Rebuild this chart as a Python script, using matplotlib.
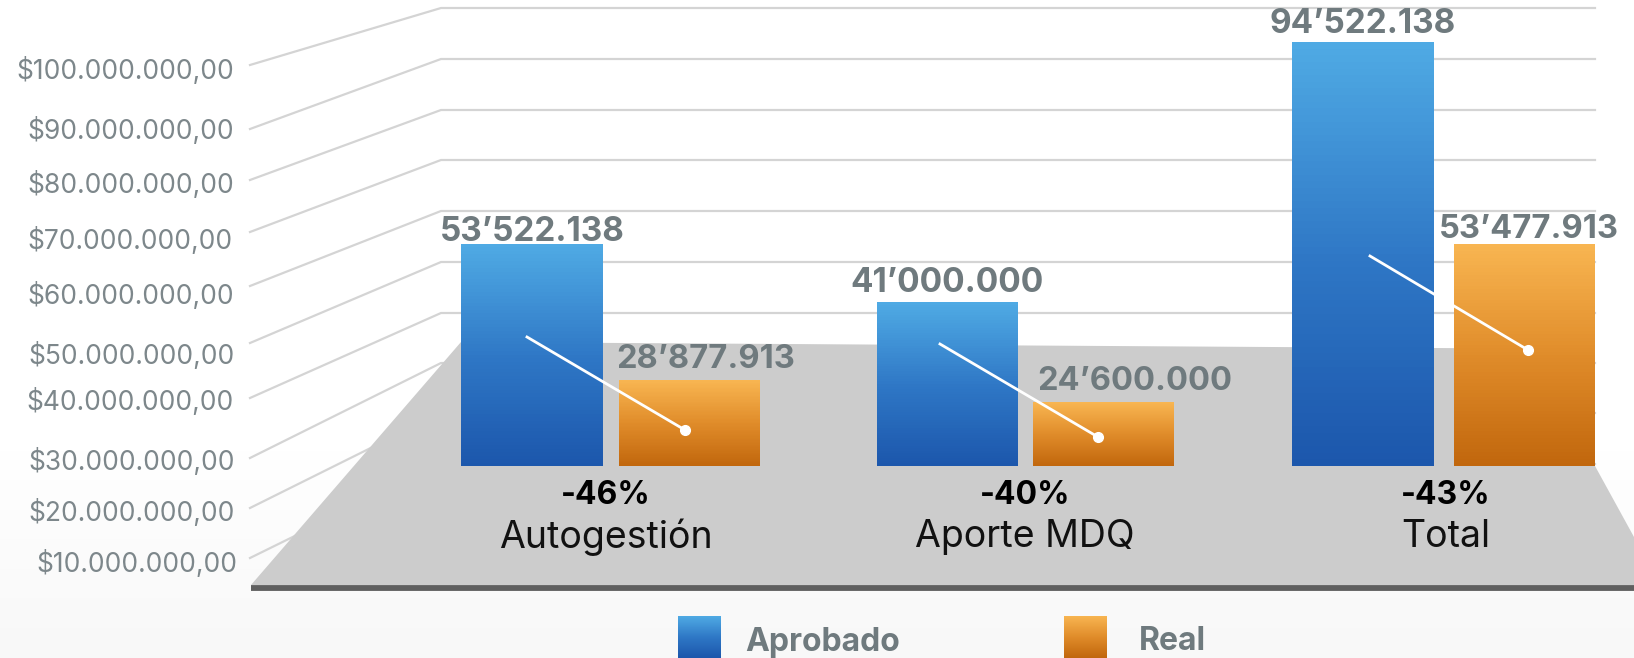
import numpy as np
import matplotlib
matplotlib.use('Agg')
import matplotlib.pyplot as plt
from matplotlib.colors import LinearSegmentedColormap
from matplotlib.patches import Polygon

plt.rcParams['font.family'] = ['Inter', 'DejaVu Sans']

W, H = 1634, 658

categories = ['Autogestión', 'Aporte MDQ', 'Total']
aprobado = [53522138, 41000000, 94522138]
real = [28877913, 24600000, 53477913]
aprobado_labels = ['53’522.138', '41’000.000', '94’522.138']
real_labels = ['28’877.913', '24’600.000', '53’477.913']
cambio = ['-46%', '-40%', '-43%']
tick_labels = ['$100.000.000,00', '$90.000.000,00', '$80.000.000,00', '$70.000.000,00', '$60.000.000,00',
               '$50.000.000,00', '$40.000.000,00', '$30.000.000,00', '$20.000.000,00', '$10.000.000,00']

# the bars are not in proportion in the picture, value -> height in pixels
scale_val = [0, 24600000, 28877913, 41000000, 53477913, 53522138, 94522138, 110000000]
scale_px = [0, 64, 86, 164, 222, 222.2, 424, 466]

# pixel positions
tick_x = [234, 234, 234, 233, 234, 235, 234, 235, 235, 237]
tick_y = [71, 131, 185, 241, 296, 356, 402, 462, 513, 564]
grid_left_y = [65, 129, 180, 232, 286, 343, 398, 458, 508, 558]
grid_wall_y = [8, 59, 110, 160, 211, 262, 313, 363, 413, 464]
off_aprobado = [-0.189, -0.191, -0.194]
off_real = [0.189, 0.183, 0.194]
aprobado_label_pos = [(532, 232), (947, 283), (1363, 24)]
real_label_pos = [(706, 359), (1135, 382), (1529, 230)]
arrow_start = [(527, 337), (940, 344), (1370, 256)]
arrow_end = [(685, 430), (1098, 437), (1528, 350)]
cat_x = [606, 1025, 1446]

GREY_TXT = '#7d878b'
GREY_BOLD = '#6f7a7e'
blues = LinearSegmentedColormap.from_list('b', ['#1c57ac', '#2f78c6', '#4faae4'])
oranges = LinearSegmentedColormap.from_list('o', ['#c1670d', '#e08c2a', '#f8b551'])


def fwd(v):
    return np.interp(v, scale_val, scale_px)


def inv(p):
    return np.interp(p, scale_px, scale_val)


fig = plt.figure(figsize=(W / 100, H / 100), dpi=100)

# background, wall and floor, in pixel coordinates
bg = fig.add_axes([0, 0, 1, 1], zorder=0)
grad = np.concatenate([np.zeros(450), np.linspace(0, 1, H - 450)]).reshape(-1, 1)
bg.imshow(grad, extent=(0, W, H, 0), aspect='auto', cmap=LinearSegmentedColormap.from_list('g', ['#ffffff', '#f8f8f8']))
for ly, wy in zip(grid_left_y, grid_wall_y):
    bg.plot([250, 441, 1595], [ly, wy, wy], color='#d4d4d4', lw=1.6, solid_joinstyle='miter')
bg.add_patch(Polygon([(251, 585), (461, 342), (1595, 349), (1595, 466), (1634, 537), (1634, 585)],
                     closed=True, facecolor='#cccccc', edgecolor='none', zorder=5))
bg.plot([251, W], [587.5, 587.5], color='#5f5f5f', lw=4.2, solid_capstyle='butt', zorder=6)
bg.set_xlim(0, W)
bg.set_ylim(H, 0)
bg.axis('off')

# bars
ax = fig.add_axes([(610.6 - 208.25) / W, (H - 466) / H, 1249.5 / W, 466 / H], zorder=1)
ax.set_yscale('function', functions=(fwd, inv))
ax.set_xlim(-0.5, 2.5)
ax.set_ylim(0, 110000000)
ax.axis('off')
ramp = np.linspace(0, 1, 64).reshape(-1, 1)
width = 0.34
for i in range(len(categories)):
    for v, off, cmap in [(aprobado[i], off_aprobado[i], blues), (real[i], off_real[i], oranges)]:
        x = i + off
        ax.bar(x, v, width, color=cmap(0.5))
        ax.pcolormesh([x - width / 2, x + width / 2], inv(np.linspace(0, fwd(v), 65)), ramp, cmap=cmap)

# lines and text on top
top = fig.add_axes([0, 0, 1, 1], zorder=2)
top.set_xlim(0, W)
top.set_ylim(H, 0)
top.axis('off')
for s, e in zip(arrow_start, arrow_end):
    top.plot([s[0], e[0]], [s[1], e[1]], color='white', lw=2)
    top.plot(e[0], e[1], 'o', color='white', ms=7)

for x, y, t in zip(tick_x, tick_y, tick_labels):
    top.text(x, y, t, ha='right', va='center', fontsize=19, color=GREY_TXT)
for (x, y), t in zip(aprobado_label_pos, aprobado_labels):
    top.text(x, y, t, ha='center', va='center', fontsize=24, fontweight='bold', color=GREY_BOLD)
for (x, y), t in zip(real_label_pos, real_labels):
    top.text(x, y, t, ha='center', va='center', fontsize=23.5, fontweight='bold', color=GREY_BOLD)
for x, c, p in zip(cat_x, categories, cambio):
    top.text(x, 496, p, ha='center', va='center', fontsize=23, fontweight='bold', color='black')
    top.text(x, 537, c, ha='center', va='center', fontsize=27, color='#111111')

# legend
for x0, cmap, name, tx in [(678, blues, 'Aprobado', 745), (1064, oranges, 'Real', 1139)]:
    top.imshow(ramp, extent=(x0, x0 + 43, H, 616), aspect='auto', cmap=cmap, origin='lower')
    top.text(tx, 642, name, ha='left', va='center', fontsize=23, fontweight='bold', color=GREY_BOLD)
top.set_xlim(0, W)
top.set_ylim(H, 0)

fig.savefig('out.png', dpi=100)
